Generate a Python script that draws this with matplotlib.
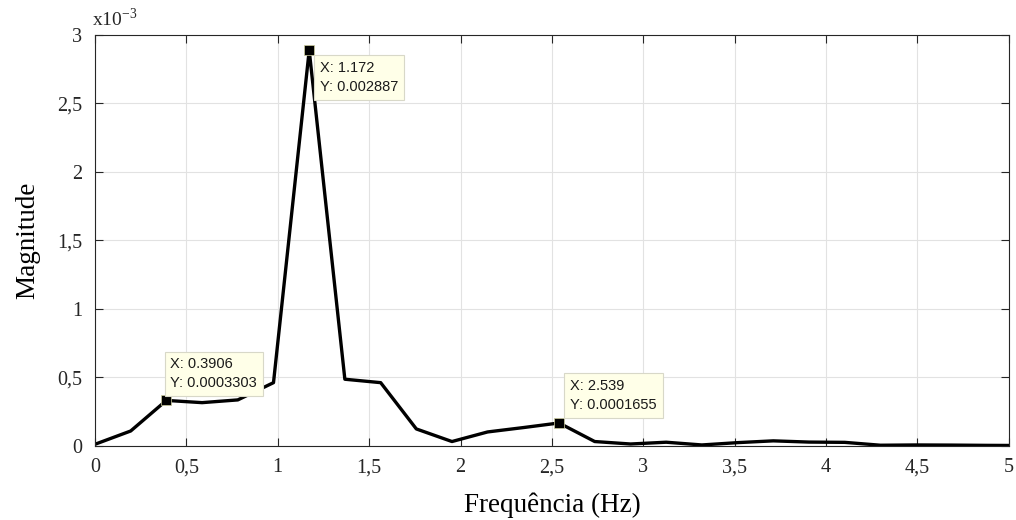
import numpy as np
import matplotlib.pyplot as plt
from matplotlib.ticker import FuncFormatter

# frequency bins (Hz) and FFT magnitude (x1e-3)
freq = [0.0, 0.1953, 0.3906, 0.5859, 0.7813, 0.9766, 1.172, 1.367, 1.563,
        1.758, 1.953, 2.148, 2.344, 2.539, 2.734, 2.930, 3.125, 3.320,
        3.516, 3.711, 3.906, 4.102, 4.297, 4.492, 4.688, 4.883, 5.078]
mag = [0.010, 0.107, 0.3303, 0.314, 0.334, 0.460, 2.887, 0.485, 0.460,
       0.122, 0.030, 0.100, 0.132, 0.1655, 0.030, 0.012, 0.025, 0.005,
       0.022, 0.035, 0.026, 0.024, 0.003, 0.005, 0.004, 0.002, 0.001]

# data tips: (x, y, label, offset in pixels, vertical alignment)
tips = [
    (1.172, 2.887, 'X: 1.172\nY: 0.002887', (11, -11), 'top'),
    (0.3906, 0.3303, 'X: 0.3906\nY: 0.0003303', (4, 10), 'bottom'),
    (2.539, 0.1655, 'X: 2.539\nY: 0.0001655', (11, 11), 'bottom'),
]

serif = ['Liberation Serif', 'DejaVu Serif']
plt.rcParams['font.family'] = serif
plt.rcParams['mathtext.fontset'] = 'custom'
plt.rcParams['mathtext.rm'] = 'Liberation Serif'

fig = plt.figure(figsize=(10.16, 5.2), dpi=100)
ax = fig.add_axes([0.0935, 0.143, 0.8995, 0.790])

ax.plot(freq, mag, color='black', linewidth=2.4)

for x, y, label, off, va in tips:
    ax.plot([x], [y], marker='s', color='black', markersize=6.5,
            markeredgecolor='#d0d0a0', markeredgewidth=0.5)
    ax.annotate(label, xy=(x, y), xytext=off, textcoords='offset pixels',
                ha='left', va=va, fontsize=10.5,
                family=['Liberation Sans', 'DejaVu Sans'], color='#1a1a1a',
                linespacing=1.45,
                bbox=dict(boxstyle='square,pad=0.4', facecolor='#ffffe8',
                          edgecolor='#d8d8c8', linewidth=0.8))

ax.set_xlim(0, 5)
ax.set_ylim(0, 3)
ax.set_xticks(np.arange(0, 5.01, 0.5))
ax.set_yticks(np.arange(0, 3.01, 0.5))

comma = FuncFormatter(lambda v, pos: ('%g' % v).replace('.', ','))
ax.xaxis.set_major_formatter(comma)
ax.yaxis.set_major_formatter(comma)

ax.grid(True, color='#e2e2e2', linewidth=0.8)
ax.set_axisbelow(True)
ax.tick_params(direction='in', top=True, right=True, length=6,
               width=0.8, labelsize=14.5, colors='#262626', pad=9)
for s in ax.spines.values():
    s.set_color('#262626')
    s.set_linewidth(0.8)

ax.set_xlabel('Frequência (Hz)', fontsize=19.5, labelpad=11)
ax.set_ylabel('Magnitude', fontsize=19.5, labelpad=12)
ax.text(-0.003, 1.012, r'x10$^{\mathrm{-3}}$', transform=ax.transAxes,
        fontsize=14, ha='left', va='bottom', color='#262626')

fig.savefig('out.png', dpi=100)
